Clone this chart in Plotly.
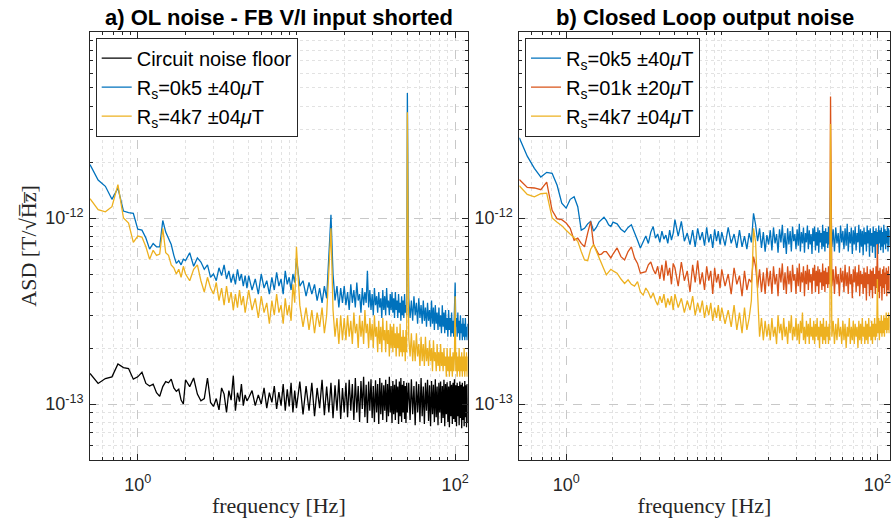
import plotly.graph_objects as go

# ---------------- data (ASD values in units of 1e-13 T/sqrt(Hz)) ----------------
freq = [
    0.5, 0.5625, 0.625, 0.6875, 0.75, 0.8125, 0.875, 0.9375, 1.0, 1.0625, 1.125, 1.1875,
    1.25, 1.3125, 1.375, 1.4375, 1.5, 1.5625, 1.625, 1.6875, 1.75, 1.8125, 1.875, 1.9375,
    2.0, 2.125, 2.25, 2.375, 2.5, 2.625, 2.75, 2.875, 3.0, 3.125, 3.25, 3.375,
    3.5, 3.625, 3.75, 3.875, 4.0, 4.125, 4.25, 4.375, 4.5, 4.625, 4.75, 4.875,
    5.0, 5.25, 5.5, 5.75, 6.0, 6.25, 6.5, 6.75, 7.0, 7.25, 7.5, 7.75, 8.0, 8.25, 8.5, 8.75,
    9.0, 9.25, 9.5, 9.75,
    10.0, 10.5, 11.0, 11.5, 12.0, 12.5, 13.0, 13.5, 14.0, 14.5, 15.0, 15.5, 16.0, 16.5,
    17.0, 17.5, 18.0, 18.5, 19.0, 19.5,
    20.0, 20.5, 21.0, 21.5, 22.0, 22.5, 23.0, 23.5, 24.0, 24.5, 25.0, 25.5, 26.0, 26.5,
    27.0, 27.5, 28.0, 28.5, 29.0, 29.5, 30.0, 30.5, 31.0, 31.5, 32.0, 32.5, 33.0, 33.5,
    34.0, 34.5, 35.0, 35.5, 36.0, 36.5, 37.0, 37.5, 38.0, 38.5, 39.0, 39.5, 40.0, 40.5,
    41.0, 41.5, 42.0, 42.5, 43.0, 43.5, 44.0, 44.5, 45.0, 45.5, 46.0, 46.5, 47.0, 47.5,
    48.0, 48.5, 49.0, 49.5,
    50, 51, 52, 53, 54, 55, 56, 57, 58, 59, 60, 61, 62, 63, 64, 65, 66, 67, 68, 69,
    70, 71, 72, 73, 74, 75, 76, 77, 78, 79, 80, 81, 82, 83, 84, 85, 86, 87, 88, 89,
    90, 91, 92, 93, 94, 95, 96, 97, 98, 99, 100, 101, 102, 103, 104, 105, 106, 107, 108, 109,
    110, 111, 112, 113, 114, 115, 116, 117, 118, 119, 120,
]

# panel a) open loop
ol_floor = [
    1.46, 1.29, 1.37, 1.40, 1.64, 1.57, 1.55, 1.36, 1.40, 1.48, 1.29, 1.25,
    1.28, 1.15, 1.10, 1.24, 1.32, 1.30, 1.36, 1.22, 1.17, 1.20, 1.05, 1.0,
    1.35, 1.24, 1.38, 1.13, 1.04, 1.07, 1.38, 1.02, 0.97, 1.07, 0.93, 1.22,
    1.13, 0.90, 1.18, 1.05, 1.42, 0.92, 1.15, 1.03, 1.28, 0.98, 1.12, 1.04,
    1.08, 1.18, 0.98, 1.12, 1.0, 1.22, 0.95, 1.15, 1.02, 1.25, 0.94, 1.16, 0.98, 1.28, 0.92, 1.2,
    0.97, 1.3, 0.9, 1.18,
    0.95, 1.32, 0.88, 1.25, 0.92, 1.3, 0.86, 1.22, 0.95, 1.35, 0.87, 1.24, 0.9, 1.3,
    0.84, 1.26, 0.92, 1.36, 0.83, 1.22,
    0.9, 1.3, 0.85, 1.35, 0.92, 1.28, 0.82, 1.38, 0.9, 1.25, 0.8, 1.33, 0.94, 1.4,
    0.85, 1.27, 0.79, 1.32, 0.92, 1.36, 0.84, 1.25, 0.8, 1.34, 0.9, 1.28, 0.78, 1.38,
    0.88, 1.3, 0.82, 1.26, 0.92, 1.35, 0.8, 1.28, 0.86, 1.4, 0.9, 1.25, 0.79, 1.33,
    0.88, 1.27, 0.82, 1.36, 0.9, 1.24, 0.78, 1.32, 0.86, 1.38, 0.8, 1.27, 0.9, 1.33,
    0.83, 1.25, 0.79, 1.3,
    0.9, 1.3, 0.82, 1.36, 0.88, 1.25, 0.77, 1.32, 0.9, 1.28, 0.8, 1.38, 0.86, 1.24, 0.78, 1.3, 0.92, 1.35, 0.81, 1.26,
    0.76, 1.33, 0.88, 1.27, 0.8, 1.36, 0.85, 1.24, 0.77, 1.3, 0.9, 1.32, 0.79, 1.25, 0.84, 1.35, 0.76, 1.28, 0.88, 1.31,
    0.8, 1.24, 0.75, 1.33, 0.86, 1.27, 0.78, 1.3, 0.83, 1.36, 0.8, 1.26, 0.76, 1.3, 0.86, 1.25, 0.77, 1.32, 0.84, 1.27,
    0.74, 1.3, 0.82, 1.24, 0.76, 1.33, 0.85, 1.26, 0.75, 1.28, 0.8,
]

ol_0k5 = [
    19.4, 16.0, 14.8, 12.6, 14.5, 10.9, 10.7, 10.6, 8.7, 8.6, 7.8, 6.8,
    7.3, 7.0, 7.0, 9.7, 8.4, 7.8, 7.2, 6.3, 5.7, 5.9, 5.6, 6.0,
    5.9, 6.5, 5.5, 6.1, 5.8, 5.3, 5.6, 4.8, 5.0, 4.6, 5.4, 4.9,
    5.6, 4.7, 5.2, 4.5, 5.0, 4.4, 5.3, 4.6, 5.0, 4.3, 4.9, 4.2,
    4.9, 4.1, 4.7, 3.9, 5.0, 4.2, 4.6, 3.9, 4.8, 4.1, 5.1, 4.3, 4.7, 3.9, 5.2, 4.4,
    4.8, 4.1, 5.0, 4.5,
    6.1, 4.3, 4.6, 3.8, 4.5, 3.9, 4.4, 3.6, 4.2, 3.5, 4.3, 3.7, 6.0, 10.4,
    5.0, 3.6, 4.3, 3.3, 4.2, 3.5,
    4.3, 3.4, 4.0, 3.2, 4.4, 3.5, 4.1, 3.3, 4.5, 3.6, 3.9, 3.1, 4.2, 3.4,
    4.0, 3.5, 5.2, 3.3, 4.1, 3.2, 3.9, 3.0, 4.2, 3.4, 3.8, 3.1, 4.0, 3.3,
    3.7, 2.9, 4.1, 3.2, 3.8, 3.0, 4.2, 3.3, 3.6, 3.0, 3.9, 3.2, 4.0, 3.1,
    3.7, 2.9, 4.0, 3.2, 3.6, 2.9, 3.9, 3.1, 3.5, 2.8, 3.8, 3.0, 3.6, 2.9,
    3.9, 3.1, 3.4, 3.0,
    47.0, 3.7, 2.9, 3.6, 2.8, 3.8, 3.0, 3.5, 2.7, 3.7, 2.9, 3.4, 2.7, 3.6, 2.8, 3.3, 2.6, 3.5, 2.8, 3.2,
    2.6, 3.6, 2.7, 3.3, 2.5, 3.4, 2.7, 3.1, 2.5, 3.3, 2.6, 3.0, 2.4, 3.4, 2.6, 3.1, 2.4, 3.2, 2.5, 2.9,
    2.3, 3.2, 2.5, 2.9, 2.3, 3.1, 2.4, 2.8, 2.3, 3.0, 4.5, 2.6, 2.9, 2.3, 3.1, 2.4, 2.8, 2.2, 3.0, 2.4,
    2.7, 2.2, 2.9, 2.3, 2.7, 2.2, 2.9, 2.3, 2.6, 2.2, 2.7,
]

ol_4k7 = [
    12.7, 11.1, 10.8, 11.5, 15.1, 10.0, 9.4, 7.4, 8.0, 7.9, 7.0, 6.0,
    6.7, 6.3, 6.4, 8.8, 6.5, 6.3, 5.6, 5.4, 5.0, 5.3, 4.8, 5.5,
    5.0, 4.6, 5.3, 5.6, 4.6, 4.0, 4.8, 4.2, 3.9, 4.5, 3.6, 4.2,
    3.4, 4.3, 3.5, 4.0, 3.2, 3.9, 3.3, 4.1, 3.4, 3.8, 3.1, 3.6,
    4.1, 3.2, 3.7, 2.9, 3.8, 3.1, 3.5, 2.7, 3.6, 3.0, 3.9, 3.1, 3.4, 2.7, 3.7, 3.0,
    3.4, 2.8, 4.4, 3.5,
    7.0, 3.4, 2.6, 3.3, 2.5, 3.2, 2.4, 3.1, 2.6, 3.3, 2.4, 3.0, 4.8, 8.8,
    3.2, 2.3, 2.9, 2.1, 3.0, 2.2,
    2.9, 2.2, 3.0, 2.3, 2.8, 2.1, 3.1, 2.4, 2.7, 2.0, 3.0, 2.3, 2.8, 2.1,
    3.2, 2.4, 2.7, 2.0, 2.9, 2.2, 2.7, 2.0, 3.0, 2.3, 2.6, 1.9, 2.8, 2.1,
    2.6, 1.9, 2.9, 2.2, 2.5, 1.9, 2.8, 2.1, 2.5, 1.8, 2.7, 2.0, 2.6, 1.9,
    2.7, 2.0, 2.4, 1.8, 2.6, 2.0, 2.4, 1.8, 2.7, 1.9, 2.3, 1.8, 2.5, 1.9,
    2.3, 1.7, 2.5, 1.9,
    37.0, 2.3, 1.8, 2.4, 1.7, 2.2, 1.7, 2.4, 1.8, 2.1, 1.6, 2.3, 1.7, 2.1, 1.6, 2.3, 1.7, 2.0, 1.6, 2.2,
    1.7, 2.0, 1.5, 2.2, 1.7, 1.9, 1.5, 2.1, 1.6, 1.9, 1.5, 2.1, 1.6, 1.9, 1.5, 2.0, 1.6, 1.8, 1.4, 2.0,
    1.5, 1.8, 1.4, 2.0, 1.5, 1.8, 1.4, 1.9, 1.5, 1.8, 3.8, 1.5, 1.9, 1.4, 1.8, 1.5, 2.0, 1.4, 1.8, 1.5,
    1.9, 1.4, 1.8, 1.5, 2.0, 1.4, 1.8, 1.5, 1.9, 1.4, 1.8,
]

# panel b) closed loop
cl_0k5 = [
    27.0, 21.5, 18.5, 16.6, 17.6, 17.4, 15.0, 12.0, 11.3, 12.6, 13.0, 11.5,
    8.6, 8.8, 9.3, 9.6, 8.5, 8.9, 9.5, 9.8, 10.1, 9.7, 9.2, 9.0,
    9.5, 9.3, 8.7, 8.4, 8.9, 9.2, 8.4, 7.6, 6.9, 7.5, 8.0, 7.3,
    8.4, 9.0, 7.8, 8.2, 7.4, 8.5, 7.7, 8.1, 7.3, 8.6, 7.6, 8.3,
    9.8, 8.0, 9.6, 7.5, 8.3, 7.2, 8.6, 7.0, 8.8, 7.6, 8.4, 7.1, 8.9, 7.4, 8.2, 6.9,
    8.7, 7.5, 8.5, 7.2,
    8.4, 7.1, 8.9, 7.3, 8.2, 6.9, 8.6, 7.0, 8.0, 6.8, 8.3, 7.4, 10.6, 9.2,
    7.5, 8.8, 6.9, 8.4, 6.6, 8.1,
    7.2, 8.6, 6.7, 8.9, 7.3, 8.2, 6.5, 8.7, 7.4, 9.2, 6.9, 8.3, 6.4, 8.8,
    7.2, 8.5, 6.6, 9.0, 7.5, 8.2, 6.8, 8.7, 7.1, 9.3, 6.6, 8.4, 7.3, 8.9,
    6.5, 8.3, 7.4, 9.1, 6.8, 8.6, 7.2, 8.2, 6.4, 8.8, 7.5, 9.0, 6.7, 8.4,
    7.1, 8.9, 6.5, 8.6, 7.4, 8.3, 6.8, 9.2, 7.0, 8.5, 6.6, 8.8, 7.3, 8.4,
    6.9, 9.0, 7.2, 8.3,
    16.0, 7.0, 8.7, 6.6, 8.9, 7.3, 8.3, 6.5, 9.1, 7.4, 8.5, 6.8, 8.8, 7.1, 9.3, 6.6, 8.4, 7.3, 8.9, 6.4,
    8.6, 7.2, 9.0, 6.7, 8.3, 7.4, 9.2, 6.5, 8.7, 7.0, 8.5, 6.3, 8.9, 7.2, 8.4, 6.6, 9.1, 7.3, 8.6, 6.2,
    8.8, 7.1, 8.3, 6.5, 9.0, 7.0, 8.5, 6.1, 8.8, 7.2, 8.4, 6.4, 9.1, 7.3, 8.6, 6.7, 8.9, 7.0, 8.4, 6.5,
    9.2, 7.2, 8.7, 6.8, 8.5, 7.3, 9.0, 6.6, 8.8, 7.1, 8.6,
]

cl_01k = [
    16.1, 14.6, 14.5, 14.2, 15.6, 11.0, 9.9, 9.8, 9.4, 8.8, 7.6, 7.8,
    7.3, 7.0, 8.3, 9.6, 7.2, 6.8, 6.35, 6.4, 6.6, 6.6, 6.3, 6.1,
    6.4, 6.9, 6.2, 5.95, 6.6, 7.0, 6.1, 5.7, 5.05, 5.1, 5.15, 5.6,
    5.8, 5.3, 5.0, 5.5, 4.7, 5.6, 4.6, 5.9, 4.9, 5.4, 4.4, 5.7,
    5.4, 4.3, 5.8, 4.6, 5.2, 4.0, 5.6, 4.5, 5.9, 4.4, 5.1, 4.1, 5.5, 4.6, 5.2, 3.9,
    5.4, 4.5, 5.0, 4.2,
    5.3, 4.3, 5.0, 3.9, 5.4, 4.4, 4.9, 3.8, 5.2, 4.1, 4.7, 4.5, 6.2, 5.5,
    4.2, 5.3, 4.0, 5.1, 3.9, 5.4,
    4.3, 5.2, 3.9, 5.5, 4.4, 5.0, 3.8, 5.4, 4.5, 5.7, 4.1, 5.1, 3.9, 5.5,
    4.4, 5.2, 4.0, 5.6, 4.6, 5.0, 3.9, 5.4, 4.3, 5.7, 4.0, 5.1, 4.5, 5.5,
    3.8, 5.2, 4.4, 5.6, 4.1, 5.3, 4.5, 5.0, 3.9, 5.4, 4.6, 5.6, 4.0, 5.2,
    4.3, 5.5, 3.9, 5.3, 4.5, 5.1, 4.1, 5.7, 4.3, 5.2, 4.0, 5.4, 4.4, 5.1,
    4.2, 5.5, 4.4, 5.1,
    45.0, 4.3, 5.3, 3.9, 5.5, 4.4, 5.0, 3.8, 5.4, 4.5, 5.2, 4.0, 5.6, 4.3, 5.1, 3.9, 5.5, 4.4, 5.0, 3.7,
    5.3, 4.5, 5.5, 4.0, 5.1, 4.3, 5.6, 3.8, 5.2, 4.4, 5.0, 3.9, 5.4, 4.2, 5.1, 3.6, 5.5, 4.4, 5.0, 3.8,
    5.3, 4.1, 5.2, 3.7, 5.4, 4.3, 5.0, 3.9, 5.5, 4.2, 7.25, 4.0, 5.2, 3.7, 5.4, 4.3, 5.0, 3.6, 5.3, 4.2,
    5.5, 3.9, 5.1, 4.4, 5.4, 3.8, 5.2, 4.1, 5.5, 3.9, 5.0,
]

cl_4k7 = [
    14.9, 13.4, 13.0, 13.5, 13.6, 10.0, 9.5, 9.1, 8.6, 8.2, 7.9, 7.5,
    6.6, 5.95, 5.9, 6.8, 7.2, 6.6, 6.1, 5.7, 5.3, 4.95, 5.1, 5.3,
    5.2, 5.05, 4.7, 4.45, 4.65, 4.4, 4.3, 4.55, 4.0, 3.85, 4.2, 4.0,
    3.7, 3.95, 3.6, 3.4, 3.8, 3.5, 3.9, 3.3, 3.7, 3.4, 3.8, 3.2,
    3.9, 3.3, 3.7, 3.1, 3.6, 3.2, 3.8, 3.0, 3.5, 3.1, 3.6, 2.9, 3.4, 3.0, 3.5, 2.8,
    3.3, 2.9, 3.4, 2.8,
    3.3, 2.7, 3.2, 2.6, 3.4, 2.5, 3.1, 2.4, 3.3, 2.5, 2.9, 3.6, 8.8, 7.4,
    3.9, 2.3, 2.9, 2.2, 2.8, 2.3,
    2.7, 2.2, 2.9, 2.3, 2.6, 2.1, 3.0, 2.4, 2.7, 2.2, 2.9, 2.3, 2.6, 2.1,
    2.8, 2.4, 3.0, 2.2, 2.6, 2.3, 2.9, 2.2, 2.7, 2.1, 2.8, 2.4, 3.1, 2.2,
    2.6, 2.1, 2.8, 2.3, 2.7, 2.1, 2.9, 2.3, 2.6, 2.2, 2.8, 2.1, 2.7, 2.3,
    2.9, 2.2, 2.6, 2.0, 2.8, 2.3, 2.7, 2.1, 2.9, 2.2, 2.6, 2.1, 2.8, 2.3,
    2.6, 2.1, 2.7, 2.2,
    32.0, 2.3, 2.8, 2.1, 2.7, 2.2, 2.9, 2.3, 2.6, 2.1, 2.8, 2.2, 2.7, 2.0, 2.6, 2.3, 2.9, 2.1, 2.6, 2.2,
    2.8, 2.1, 2.7, 2.3, 2.6, 2.0, 2.8, 2.2, 2.7, 2.1, 2.9, 2.3, 2.6, 2.1, 2.8, 2.2, 2.7, 2.1, 2.9, 2.3,
    2.6, 2.2, 2.8, 2.1, 2.7, 2.3, 2.9, 2.2, 2.7, 2.3, 4.7, 2.4, 2.9, 2.2, 2.8, 2.4, 3.0, 2.3, 2.8, 2.4,
    3.0, 2.3, 2.9, 2.5, 3.1, 2.4, 2.9, 2.5, 3.1, 2.4, 3.0,
]

legend_a = ["Circuit noise floor",
            "R<sub>s</sub>=0k5 ±40<i>μ</i>T",
            "R<sub>s</sub>=4k7 ±04<i>μ</i>T"]
legend_b = ["R<sub>s</sub>=0k5 ±40<i>μ</i>T",
            "R<sub>s</sub>=01k ±20<i>μ</i>T",
            "R<sub>s</sub>=4k7 ±04<i>μ</i>T"]
titles = ["a) OL noise - FB V/I input shorted", "b) Closed Loop output noise"]

x_major = [1, 100]
x_major_text = ["10<sup>0</sup>", "10<sup>2</sup>"]
x_minor = [0.6, 0.7, 0.8, 0.9, 2, 3, 4, 5, 6, 7, 8, 9, 10, 20, 30, 40, 50, 60, 70, 80, 90]
y_major = [1e-13, 1e-12]
y_major_text = ["10<sup>-13</sup>", "10<sup>-12</sup>"]
y_minor = [6e-14, 7e-14, 8e-14, 9e-14, 2e-13, 3e-13, 4e-13, 5e-13, 6e-13, 7e-13, 8e-13, 9e-13,
           2e-12, 3e-12, 4e-12, 5e-12, 6e-12, 7e-12, 8e-12, 9e-12]

BLUE, ORANGE, YELLOW, BLACK = "#0072BD", "#D95319", "#EDB120", "#000000"
SCALE = 1e-13

fig = go.Figure()

def add(series, name, color, xa, ya, leg):
    fig.add_trace(go.Scatter(
        x=freq, y=[v * SCALE for v in series], mode="lines", name=name,
        line=dict(color=color, width=1.3), xaxis=xa, yaxis=ya, legend=leg))

add(ol_floor, legend_a[0], BLACK, "x", "y", "legend")
add(ol_0k5, legend_a[1], BLUE, "x", "y", "legend")
add(ol_4k7, legend_a[2], YELLOW, "x", "y", "legend")
add(cl_0k5, legend_b[0], BLUE, "x2", "y2", "legend2")
add(cl_01k, legend_b[1], ORANGE, "x2", "y2", "legend2")
add(cl_4k7, legend_b[2], YELLOW, "x2", "y2", "legend2")

W, H = 895, 524
dom_a = [90 / W, 467.7 / W]
dom_b = [519.3 / W, 889.7 / W]
dom_y = [1 - 460 / H, 1 - 32 / H]

tickfont = dict(family="Liberation Sans, Arial, sans-serif", size=18, color="#262626")
labfont = dict(family="Liberation Serif, DejaVu Serif, serif", size=22, color="#262626")

def xaxis(dom, anchor):
    return dict(type="log", domain=dom, anchor=anchor, range=[-0.30103, 2.07918],
                tickmode="array", tickvals=x_major, ticktext=x_major_text,
                ticks="inside", ticklen=6, tickcolor="#262626", mirror="allticks",
                showline=True, linecolor="#262626", linewidth=1,
                showgrid=True, gridcolor="#c8c8c8", griddash="dash", gridwidth=1,
                minor=dict(tickmode="array", tickvals=x_minor, ticks="inside", ticklen=3,
                           tickcolor="#262626", showgrid=True, gridcolor="#e2e2e2",
                           griddash="dot", gridwidth=1),
                tickfont=tickfont, zeroline=False, ticklabelstandoff=8,
                title=dict(text="frequency [Hz]", font=labfont, standoff=4))

def yaxis(anchor, title):
    d = dict(type="log", domain=dom_y, anchor=anchor, range=[-13.30103, -11],
             tickmode="array", tickvals=y_major, ticktext=y_major_text,
             ticks="inside", ticklen=6, tickcolor="#262626", mirror="allticks",
             showline=True, linecolor="#262626", linewidth=1,
             showgrid=True, gridcolor="#c8c8c8", griddash="dash", gridwidth=1,
             minor=dict(tickmode="array", tickvals=y_minor, ticks="inside", ticklen=3,
                        tickcolor="#262626", showgrid=True, gridcolor="#e2e2e2",
                        griddash="dot", gridwidth=1),
             tickfont=tickfont, zeroline=False, ticklabelstandoff=2)
    if title:
        d["title"] = dict(text=title, font=labfont, standoff=2)
    return d

legfont = dict(family="Liberation Sans, Arial, sans-serif", size=20, color="#000000")

fig.update_layout(
    width=W, height=H, margin=dict(l=0, r=0, t=0, b=0),
    paper_bgcolor="white", plot_bgcolor="white",
    xaxis=xaxis(dom_a, "y"), yaxis=yaxis("x", "ASD [T/√H̅z̅]"),
    xaxis2=xaxis(dom_b, "y2"), yaxis2=yaxis("x2", None),
    legend=dict(x=95.7 / W, y=1 - 37.7 / H, xanchor="left", yanchor="top",
                bgcolor="white", bordercolor="#262626", borderwidth=1,
                font=legfont, itemwidth=30, tracegroupgap=0),
    legend2=dict(x=525 / W, y=1 - 37.7 / H, xanchor="left", yanchor="top",
                 bgcolor="white", bordercolor="#262626", borderwidth=1,
                 font=legfont, itemwidth=30, tracegroupgap=0),
    showlegend=True,
    annotations=[
        dict(text="<b>" + titles[0] + "</b>", x=(90 + 467.7) / 2 / W, y=1 - 17 / H,
             xref="paper", yref="paper", showarrow=False, xanchor="center", yanchor="middle",
             font=dict(family="Liberation Sans, Arial, sans-serif", size=22, color="#000000")),
        dict(text="<b>" + titles[1] + "</b>", x=(519.3 + 889.7) / 2 / W, y=1 - 17 / H,
             xref="paper", yref="paper", showarrow=False, xanchor="center", yanchor="middle",
             font=dict(family="Liberation Sans, Arial, sans-serif", size=22, color="#000000")),
    ],
)

fig.write_html("out.html")
